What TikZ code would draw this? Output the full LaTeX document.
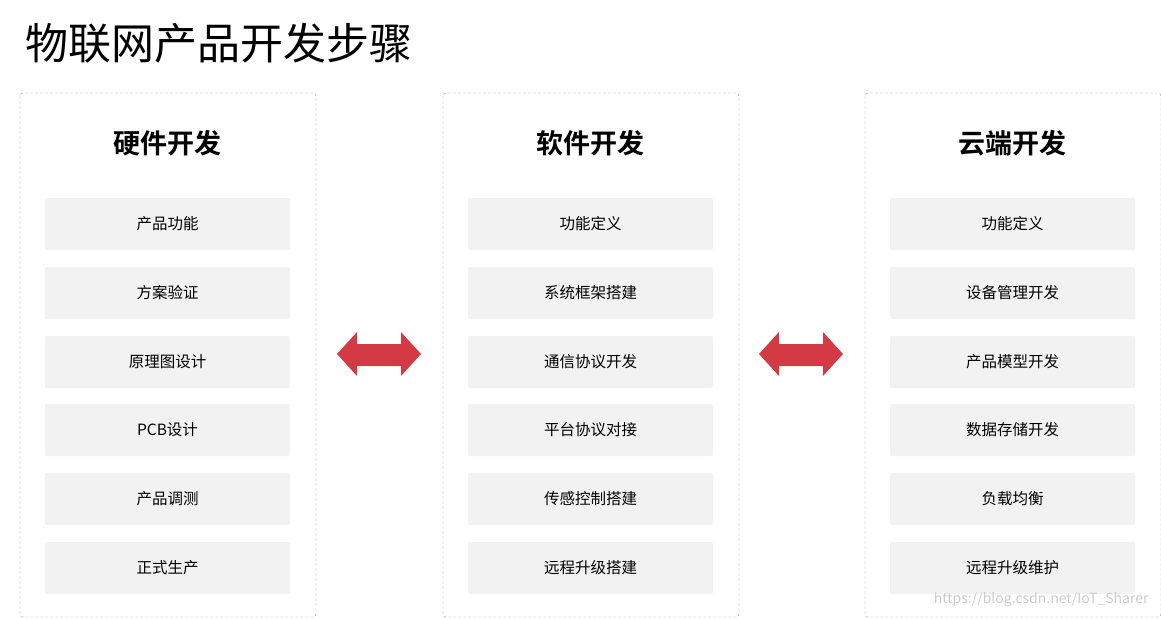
\documentclass[tikz,border=0pt]{standalone}
\usepackage{fontspec}
\setmainfont{Noto Sans CJK SC}[BoldFont={Noto Sans CJK SC Bold}]
\begin{document}
\begin{tikzpicture}[x=1pt,y=-1pt,
  panel/.style={draw=black!40,dash pattern=on 3pt off 2pt,rounded corners=3pt},
  item/.style={fill=black!5,rounded corners=2pt,minimum width=245pt,minimum height=52pt,font=\fontsize{15.5}{15.5}\selectfont},
  head/.style={font=\fontsize{27}{27}\selectfont\bfseries},
  dbl/.style={fill={rgb,255:red,212;green,58;blue,68},draw=none}]
\useasboundingbox (0,0) rectangle (1161,618);
\node[anchor=west,font=\fontsize{43}{43}\selectfont] (title) at (22,43) {物联网产品开发步骤};
\foreach \c/\x/\h/\a/\b/\cc/\d/\e/\f in {
 A/20/硬件开发/产品功能/方案验证/原理图设计/PCB设计/产品调测/正式生产,
 B/443/软件开发/功能定义/系统框架搭建/通信协议开发/平台协议对接/传感控制搭建/远程升级搭建,
 C/865/云端开发/功能定义/设备管理开发/产品模型开发/数据存储开发/负载均衡/远程升级维护}{
  \draw[panel] (\x,93) rectangle (\x+296,617);
  \node[head] (\c h) at (\x+147,143) {\h};
  \node[item] (\c1) at (\x+147.5,224) {\a};
  \node[item] (\c2) at (\x+147.5,293) {\b};
  \node[item] (\c3) at (\x+147.5,362) {\cc};
  \node[item] (\c4) at (\x+147.5,430) {\d};
  \node[item] (\c5) at (\x+147.5,499) {\e};
  \node[item] (\c6) at (\x+147.5,568) {\f};
}
\foreach \cx in {379,801}{
  \fill[dbl] (\cx-42,354) -- (\cx-22,332) -- (\cx-22,344) -- (\cx+22,344) -- (\cx+22,332) -- (\cx+42,354) -- (\cx+22,376) -- (\cx+22,366) -- (\cx-22,366) -- (\cx-22,376) -- cycle;
}
\node[anchor=east,text=black!20,font=\fontsize{14}{14}\selectfont] (wm) at (1152,600) {https://blog.csdn.net/IoT\_Sharer};
\end{tikzpicture}
\end{document}
